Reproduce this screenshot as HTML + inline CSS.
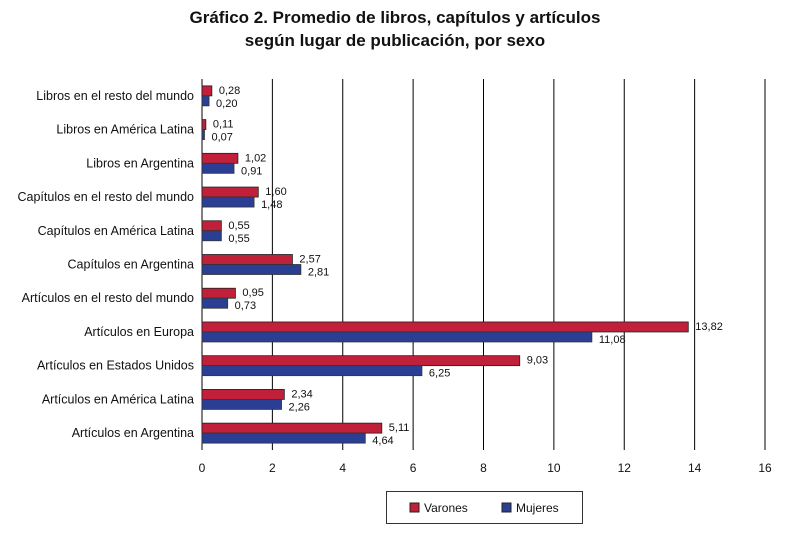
<!DOCTYPE html>
<html><head><meta charset="utf-8"><style>
body{margin:0;background:#fff;font-family:"Liberation Sans",Arial,sans-serif}
svg text{font-family:"Liberation Sans",Arial,sans-serif}
</style></head><body>
<svg id="c" width="810" height="537" xmlns="http://www.w3.org/2000/svg">
<text x="395" y="23" text-anchor="middle" font-size="17" font-weight="bold" fill="#111">Gráfico 2. Promedio de libros, capítulos y artículos</text>
<text x="395" y="46" text-anchor="middle" font-size="17" font-weight="bold" fill="#111">según lugar de publicación, por sexo</text>
<g id="grid"></g><g id="bars"></g><g id="labels"></g>
<g>
<rect x="386.5" y="491.5" width="196" height="32" fill="#fff" stroke="#333"/>
<rect x="410" y="503" width="9" height="9" fill="#c0203a" stroke="#222"/>
<text x="424" y="512" font-size="12" fill="#111">Varones</text>
<rect x="502" y="503" width="9" height="9" fill="#2a3f94" stroke="#222"/>
<text x="516" y="512" font-size="12" fill="#111">Mujeres</text>
</g>
</svg>
<script>
const categories=["Libros en el resto del mundo","Libros en América Latina","Libros en Argentina","Capítulos en el resto del mundo","Capítulos en América Latina","Capítulos en Argentina","Artículos en el resto del mundo","Artículos en Europa","Artículos en Estados Unidos","Artículos en América Latina","Artículos en Argentina"];
const varones=[0.28,0.11,1.02,1.60,0.55,2.57,0.95,13.82,9.03,2.34,5.11];
const mujeres=[0.20,0.07,0.91,1.48,0.55,2.81,0.73,11.08,6.25,2.26,4.64];
const ticks=[0,2,4,6,8,10,12,14,16];
const NS="http://www.w3.org/2000/svg";
const x0=202,x1=765,plotTop=79,plotBot=450,xmax=16;
const xs=v=>x0+(x1-x0)*v/xmax;
const step=(plotBot-plotTop)/categories.length;
const yc=i=>plotTop+step*(i+0.5);
const fmt=v=>v.toFixed(2).replace('.',',');
function mk(t,a,p){const e=document.createElementNS(NS,t);for(const k in a)e.setAttribute(k,a[k]);p.appendChild(e);return e;}
const g=document.getElementById('grid'),b=document.getElementById('bars'),l=document.getElementById('labels');
ticks.forEach(t=>{
 const ln=mk('line',{x1:xs(t),x2:xs(t),y1:plotTop,y2:plotBot,stroke:'#000','stroke-width':1},g);
 
 
 const tx=mk('text',{x:xs(t),y:plotBot+22,'text-anchor':'middle','font-size':12,fill:'#111'},g);
 tx.textContent=t;
 
 
});
categories.forEach((c,i)=>{
 const y=yc(i);
 const cl=mk('text',{x:194,y:y+4,'text-anchor':'end','font-size':12.5,fill:'#111'},l);
 cl.textContent=c;
 
 
 const r=mk('rect',{x:x0,y:y-10,width:xs(varones[i])-x0,height:10,fill:'#c0203a',stroke:'#222','stroke-width':0.8},b);
 
 
 const m=mk('rect',{x:x0,y:y,width:xs(mujeres[i])-x0,height:10,fill:'#2a3f94',stroke:'#333','stroke-width':0.8},b);
 
 
 const vl=mk('text',{x:xs(varones[i])+7,y:y-2,'font-size':11,fill:'#111'},l);
 vl.textContent=fmt(varones[i]);
 
 
 const ml=mk('text',{x:xs(mujeres[i])+7,y:y+11,'font-size':11,fill:'#111'},l);
 ml.textContent=fmt(mujeres[i]);
 
 
});
</script>
</body></html>
